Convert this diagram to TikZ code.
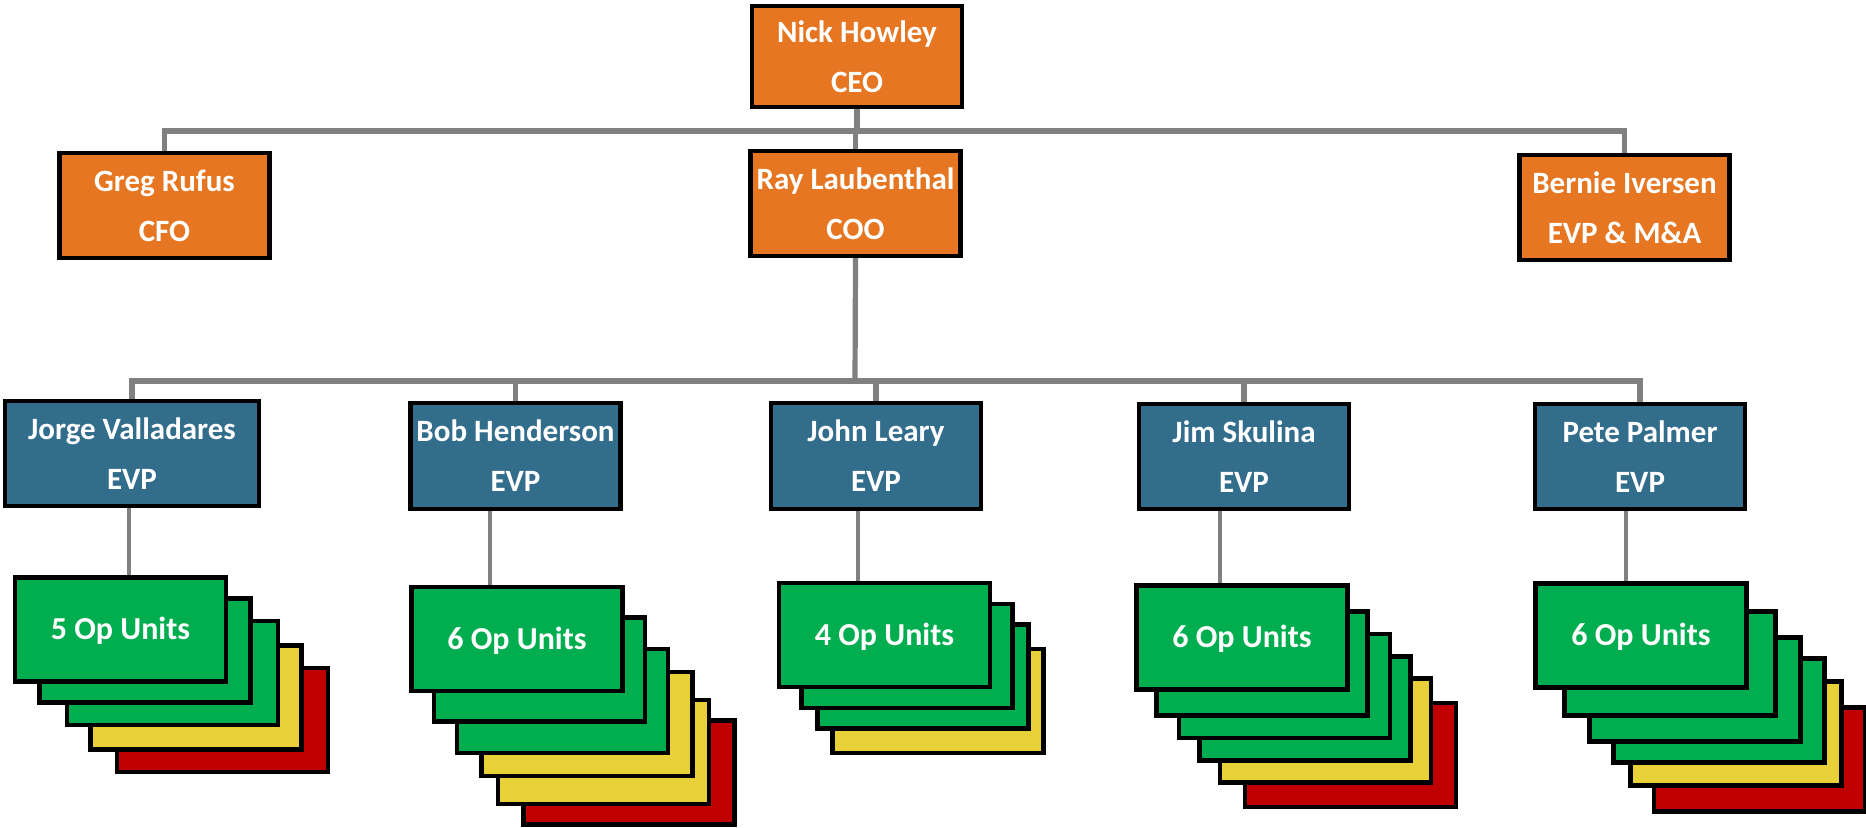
\documentclass[tikz,border=0pt]{standalone}
\usepackage{fontspec}
\setmainfont{Carlito}
\definecolor{orangeC}{HTML}{E67621}
\definecolor{blueC}{HTML}{336D8C}
\definecolor{greenC}{HTML}{00AE50}
\definecolor{yellowC}{HTML}{E8D038}
\definecolor{redC}{HTML}{C00000}
\definecolor{greyC}{HTML}{808080}
\tikzset{
  box/.style={draw=black, line width=2.1pt, inner sep=0pt, minimum width=105pt, minimum height=52.5pt,
    text=white, align=center, font=\bfseries\fontsize{15.5}{25}\selectfont},
  orgbox/.style={box, fill=orangeC},
  evpbox/.style={box, fill=blueC},
  opbox/.style={box, minimum width=105.5pt, minimum height=52pt, text height=10.4pt, text depth=0pt,
    font=\bfseries\fontsize{16}{18}\selectfont},
  gbox/.style={opbox, fill=greenC},
  ybox/.style={opbox, fill=yellowC},
  rbox/.style={opbox, fill=redC},
  bus/.style={draw=greyC, line width=2.6pt},
  drop/.style={draw=greyC, line width=2pt}
}
\begin{document}
\begin{tikzpicture}[x=0.5pt, y=-0.5pt]
\useasboundingbox (0,0) rectangle (1866,828);

% top level
\node[orgbox, minimum height=50.5pt] (ceo) at (857,56.5) {Nick Howley\\CEO};
\node[orgbox] (greg) at (164.5,205.5) {Greg Rufus\\CFO};
\node[orgbox] (coo) at (855.5,203.5) {Ray Laubenthal\\COO};
\node[orgbox] (bernie) at (1624.5,207.5) {Bernie Iversen\\EVP \& M\&A};

% EVPs
\node[evpbox, minimum width=127pt] (evp1) at (132,453.5) {Jorge Valladares\\EVP};
\node[evpbox, minimum height=53pt] (evp2) at (515.5,456) {Bob Henderson\\EVP};
\node[evpbox, minimum height=53pt] (evp3) at (876,456) {John Leary\\EVP};
\node[evpbox] (evp4) at (1244,456.5) {Jim Skulina\\EVP};
\node[evpbox] (evp5) at (1640,456.5) {Pete Palmer\\EVP};

% connectors, top
\coordinate (tb) at (857,131);
\coordinate (eb) at (855,381);
\draw[bus] (ceo.south) -- (tb);
\draw[bus] (greg.north) |- (tb) -| (bernie.north);
\draw[bus] (tb -| coo.north) -- (coo.north);
\draw[bus] (coo.south) -- (eb);
\draw[bus] (evp1.north) |- (eb) -| (evp5.north);
\draw[bus] (eb -| evp2.north) -- (evp2.north);
\draw[bus] (eb -| evp3.north) -- (evp3.north);
\draw[bus] (eb -| evp4.north) -- (evp4.north);

% stack 1 (Jorge)
\node[rbox] (s1e) at (222.5,720) {};
\node[ybox] (s1d) at (196,697.5) {};
\node[gbox] (s1c) at (172.5,673) {};
\node[gbox] (s1b) at (145,650.5) {};
\node[gbox] (s1a) at (120.5,629.5) {5 Op Units};

% stack 2 (Bob)
\node[rbox] (s2f) at (629,772.5) {};
\node[ybox] (s2e) at (603.5,752) {};
\node[ybox] (s2d) at (587,724) {};
\node[gbox] (s2c) at (562.5,701) {};
\node[gbox] (s2b) at (539.5,669.5) {};
\node[gbox] (s2a) at (517,639) {6 Op Units};

% stack 3 (John)
\node[ybox] (s3d) at (938,701) {};
\node[gbox] (s3c) at (923,676.5) {};
\node[gbox] (s3b) at (907,656) {};
\node[gbox] (s3a) at (884.5,635) {4 Op Units};

% stack 4 (Jim)
\node[rbox] (s4f) at (1350.5,755) {};
\node[ybox] (s4e) at (1325.5,730.5) {};
\node[gbox] (s4d) at (1305,708.5) {};
\node[gbox] (s4c) at (1284.5,686) {};
\node[gbox] (s4b) at (1262,663.5) {};
\node[gbox] (s4a) at (1242,637.5) {6 Op Units};

% stack 5 (Pete)
\node[rbox] (s5f) at (1759.5,759.5) {};
\node[ybox] (s5e) at (1736,733.5) {};
\node[gbox] (s5d) at (1719,710.5) {};
\node[gbox] (s5c) at (1695,689.5) {};
\node[gbox] (s5b) at (1670,663.5) {};
\node[gbox] (s5a) at (1641,635.5) {6 Op Units};

% drops from EVPs to op units
\coordinate (d1) at (129,0);
\coordinate (d2) at (490,0);
\coordinate (d3) at (858,0);
\coordinate (d4) at (1220,0);
\coordinate (d5) at (1626,0);
\draw[drop] (evp1.south -| d1) -- (s1a.north -| d1);
\draw[drop] (evp2.south -| d2) -- (s2a.north -| d2);
\draw[drop] (evp3.south -| d3) -- (s3a.north -| d3);
\draw[drop] (evp4.south -| d4) -- (s4a.north -| d4);
\draw[drop] (evp5.south -| d5) -- (s5a.north -| d5);
\end{tikzpicture}
\end{document}
